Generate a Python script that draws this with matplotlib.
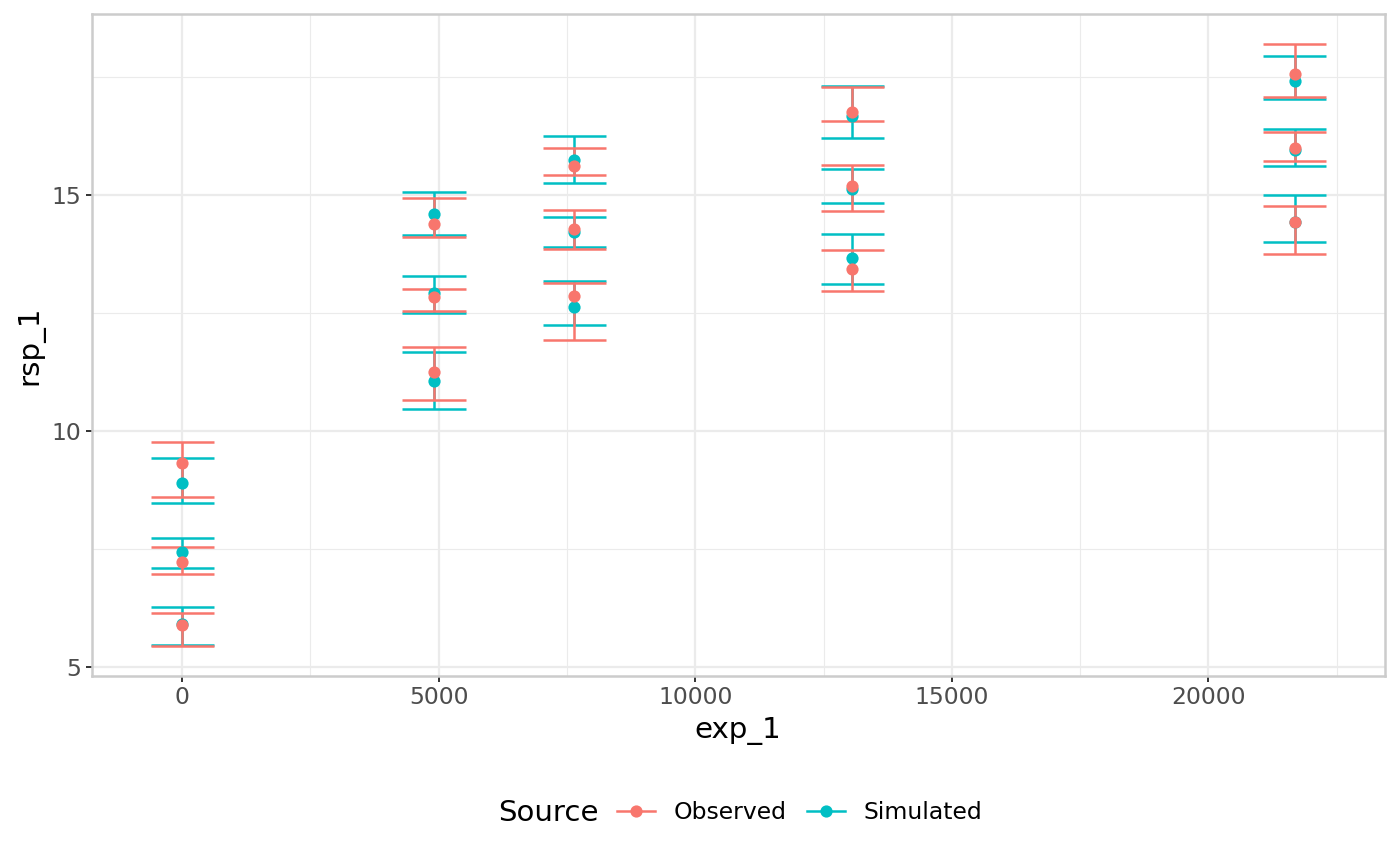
import matplotlib
matplotlib.use("Agg")
import matplotlib.pyplot as plt
from matplotlib.lines import Line2D
from matplotlib.ticker import FixedLocator, FixedFormatter

# ---- data ----
exp_levels = [0, 4910, 7640, 13060, 21680]

obs_x = [0, 0, 0, 4910, 4910, 4910, 7640, 7640, 7640, 13060, 13060, 13060, 21680, 21680, 21680]
obs_y = [9.33, 7.23, 5.90, 14.39, 12.83, 11.24, 15.61, 14.27, 12.85, 16.76, 15.18, 13.44, 17.56, 15.99, 14.42]
obs_lo = [8.60, 6.97, 5.44, 14.11, 12.54, 10.66, 15.42, 13.86, 11.93, 16.57, 14.66, 12.96, 17.08, 15.71, 13.75]
obs_hi = [9.76, 7.55, 6.14, 14.94, 13.01, 11.78, 16.00, 14.67, 13.13, 17.28, 15.63, 13.83, 18.19, 16.34, 14.77]

sim_x = obs_x
sim_y = [8.90, 7.43, 5.91, 14.60, 12.93, 11.05, 15.73, 14.22, 12.63, 16.67, 15.13, 13.66, 17.42, 15.94, 14.43]
sim_lo = [8.47, 7.09, 5.47, 14.15, 12.49, 10.47, 15.25, 13.90, 12.24, 16.20, 14.82, 13.11, 17.02, 15.61, 14.00]
sim_hi = [9.42, 7.73, 6.28, 15.06, 13.29, 11.67, 16.24, 14.53, 13.17, 17.31, 15.55, 14.17, 17.93, 16.39, 14.99]

x_ticks = [0, 5000, 10000, 15000, 20000]
x_ticklabels = ["0", "5000", "10000", "15000", "20000"]
y_ticks = [5, 10, 15]
y_ticklabels = ["5", "10", "15"]

sources = ["Observed", "Simulated"]
colors = {"Observed": "#F8766D", "Simulated": "#00BFC4"}

# ---- figure ----
W, H = 1400, 865
fig = plt.figure(figsize=(W / 100, H / 100), dpi=100)
fig.patch.set_facecolor("white")
left, right, top, bottom = 91.7, 1385, 14, 676
ax = fig.add_axes([left / W, 1 - bottom / H, (right - left) / W, (bottom - top) / H])
ax.set_facecolor("white")

cap_half = 617
lw = 1.8
ms = 8.8

series = {
    "Simulated": (sim_x, sim_y, sim_lo, sim_hi),
    "Observed": (obs_x, obs_y, obs_lo, obs_hi),
}
# error bars (simulated under observed)
for name in ["Simulated", "Observed"]:
    xs, ys, lo, hi = series[name]
    c = colors[name]
    ax.vlines(xs, lo, hi, colors=c, linewidth=lw, zorder=3)
    ax.hlines(lo, [x - cap_half for x in xs], [x + cap_half for x in xs], colors=c, linewidth=lw, zorder=3)
    ax.hlines(hi, [x - cap_half for x in xs], [x + cap_half for x in xs], colors=c, linewidth=lw, zorder=3)
for name in ["Simulated", "Observed"]:
    xs, ys, lo, hi = series[name]
    ax.plot(xs, ys, linestyle="none", marker="o", ms=ms, color=colors[name],
            markeredgewidth=0, zorder=4)

ax.set_xlim(-1763, 23443)
ax.set_ylim(4.81, 18.83)

ax.xaxis.set_major_locator(FixedLocator(x_ticks))
ax.xaxis.set_major_formatter(FixedFormatter(x_ticklabels))
ax.yaxis.set_major_locator(FixedLocator(y_ticks))
ax.yaxis.set_major_formatter(FixedFormatter(y_ticklabels))
ax.xaxis.set_minor_locator(FixedLocator([2500, 7500, 12500, 17500, 22500]))
ax.yaxis.set_minor_locator(FixedLocator([7.5, 12.5, 17.5]))

ax.grid(which="major", color="#EBEBEB", linewidth=1.6, zorder=0)
ax.grid(which="minor", color="#EBEBEB", linewidth=0.8, zorder=0)
ax.set_axisbelow(True)

ax.tick_params(which="major", length=4.3, width=1.4, color="#333333",
               labelsize=16.9, labelcolor="#4D4D4D", pad=3)
ax.tick_params(which="minor", length=0)

for s in ax.spines.values():
    s.set_color("#CCCCCC")
    s.set_linewidth(1.8)
    s.set_zorder(5)

# axis titles
fig.text(738 / W, 1 - 731 / H, "exp_1", ha="center", va="center", fontsize=21.1, color="black")
fig.text(30 / W, 1 - 345 / H, "rsp_1", ha="center", va="center", rotation=90, fontsize=21.1, color="black")

# legend
fig.text(498 / W, 1 - 812.7 / H, "Source", ha="left", va="center", fontsize=21.1, color="black")
handles = [Line2D([], [], color=colors[s], marker="o", ms=ms, lw=lw, markeredgewidth=0) for s in sources]
fig.legend(handles, sources, loc="center left", bbox_to_anchor=(617 / W, 1 - 812.7 / H),
           ncol=2, frameon=False, fontsize=16.9, handlelength=1.6, handletextpad=0.8,
           columnspacing=0.9, borderpad=0, borderaxespad=0)

fig.savefig("out.png", dpi=100, facecolor="white")
